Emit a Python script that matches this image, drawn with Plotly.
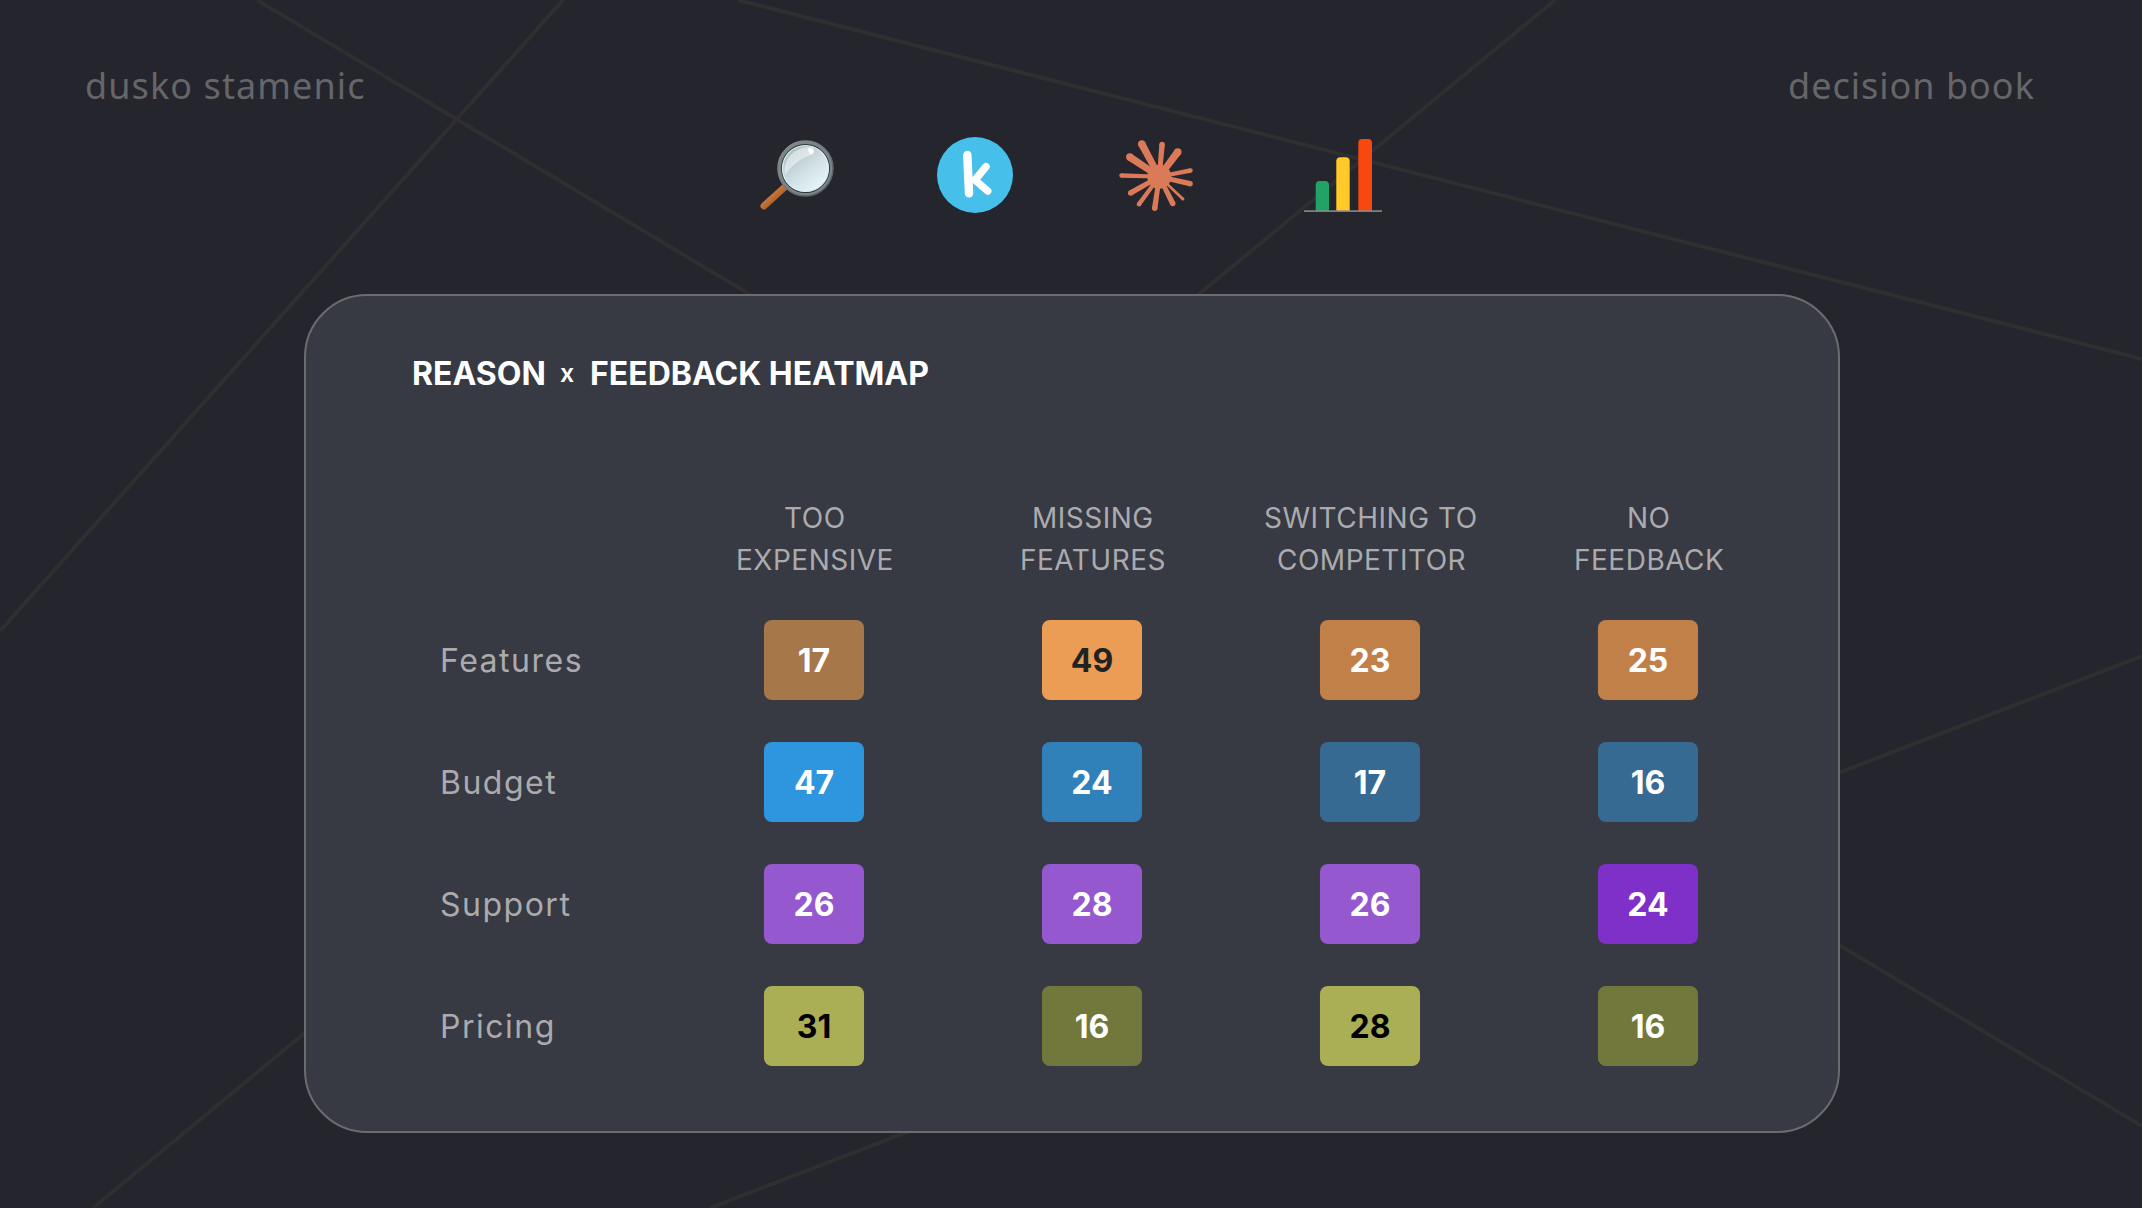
import base64
import plotly.graph_objects as go

# Heatmap content
REASONS = ["Features", "Budget", "Support", "Pricing"]
FEEDBACK_LINES = [["TOO", "EXPENSIVE"], ["MISSING", "FEATURES"],
                  ["SWITCHING TO", "COMPETITOR"], ["NO", "FEEDBACK"]]
FEEDBACK = [" ".join(parts) for parts in FEEDBACK_LINES]

FEATURES_VALUES = [17, 49, 23, 25]
BUDGET_VALUES = [47, 24, 17, 16]
SUPPORT_VALUES = [26, 28, 26, 24]
PRICING_VALUES = [31, 16, 28, 16]
ROW_VALUES = [FEATURES_VALUES, BUDGET_VALUES, SUPPORT_VALUES, PRICING_VALUES]

FEATURES_COLORS = ["#A67749", "#EB9C55", "#C28049", "#C28049"]
BUDGET_COLORS = ["#2E96DE", "#3080BA", "#366A92", "#366A92"]
SUPPORT_COLORS = ["#9558CF", "#9558CF", "#9558CF", "#7F30C9"]
PRICING_COLORS = ["#AAAE55", "#72783B", "#AAAE55", "#72783B"]
ROW_COLORS = [FEATURES_COLORS, BUDGET_COLORS, SUPPORT_COLORS, PRICING_COLORS]

FEATURES_TEXT = ["#FFFFFF", "#222222", "#FFFFFF", "#FFFFFF"]
BUDGET_TEXT = ["#FFFFFF"] * 4
SUPPORT_TEXT = ["#FFFFFF"] * 4
PRICING_TEXT = ["#000000", "#FFFFFF", "#000000", "#FFFFFF"]
ROW_TEXT = [FEATURES_TEXT, BUDGET_TEXT, SUPPORT_TEXT, PRICING_TEXT]

W, H = 2142, 1208
SANS = "Inter"
HUMANIST = "Noto Sans"
BG = "#24252D"
CARD = "#373943"
CARD_EDGE = "#6C6C6E"
WEB = "#2F2F2F"
MUTED = "#ABABAD"


def px(x):
    return x / W


def py(y):
    return 1 - y / H


def spaced(text, amount):
    return f"<span style='letter-spacing:{amount}px'>{text}</span>"


def line(x0, y0, x1, y1):
    return dict(type="line", xref="paper", yref="paper", layer="below",
                x0=px(x0), y0=py(y0), x1=px(x1), y1=py(y1),
                line=dict(color=WEB, width=4))


def rounded_rect(x0, y0, x1, y1, r):
    k = r * 0.45
    pts = [
        f"M {px(x0 + r)} {py(y0)}", f"L {px(x1 - r)} {py(y0)}",
        f"C {px(x1 - k)} {py(y0)} {px(x1)} {py(y0 + k)} {px(x1)} {py(y0 + r)}",
        f"L {px(x1)} {py(y1 - r)}",
        f"C {px(x1)} {py(y1 - k)} {px(x1 - k)} {py(y1)} {px(x1 - r)} {py(y1)}",
        f"L {px(x0 + r)} {py(y1)}",
        f"C {px(x0 + k)} {py(y1)} {px(x0)} {py(y1 - k)} {px(x0)} {py(y1 - r)}",
        f"L {px(x0)} {py(y0 + r)}",
        f"C {px(x0)} {py(y0 + k)} {px(x0 + k)} {py(y0)} {px(x0 + r)} {py(y0)}",
        "Z",
    ]
    return " ".join(pts)


def svg_uri(body, w, h):
    svg = f'<svg xmlns="http://www.w3.org/2000/svg" viewBox="0 0 {w} {h}" width="{w*4}" height="{h*4}">{body}</svg>'
    return "data:image/svg+xml;base64," + base64.b64encode(svg.encode()).decode()


def icon(body, x0, y0, x1, y1):
    return dict(source=svg_uri(body, x1 - x0, y1 - y0), xref="paper", yref="paper",
                x=px(x0), y=py(y0), sizex=(x1 - x0) / W, sizey=(y1 - y0) / H,
                xanchor="left", yanchor="top", sizing="stretch", layer="above")


def top_rounded_bar(x, top, width, bottom, fill, r=4):
    return (f'<path d="M{x} {bottom} L{x} {top + r} Q{x} {top} {x + r} {top} '
            f'L{x + width - r} {top} Q{x + width} {top} {x + width} {top + r} '
            f'L{x + width} {bottom} Z" fill="{fill}"/>')


MAGNIFIER = """
<defs>
<linearGradient id="g" x1="0.15" y1="0.05" x2="0.85" y2="0.95">
<stop offset="0" stop-color="#A9BCC0"/><stop offset="0.5" stop-color="#CFDEE2"/><stop offset="1" stop-color="#EAF8FC"/>
</linearGradient>
<linearGradient id="h" x1="0" y1="0" x2="1" y2="1">
<stop offset="0" stop-color="#E59A5E"/><stop offset="0.55" stop-color="#B8682C"/><stop offset="1" stop-color="#7E3F12"/>
</linearGradient>
<linearGradient id="r" x1="0" y1="0" x2="1" y2="1">
<stop offset="0" stop-color="#8B9497"/><stop offset="1" stop-color="#4E5558"/>
</linearGradient>
</defs>
<line x1="27.5" y1="47.5" x2="6" y2="67" stroke="url(#h)" stroke-width="7" stroke-linecap="round"/>
<circle cx="47.5" cy="29.5" r="27.5" fill="#7C8588" stroke="url(#r)" stroke-width="1.5"/>
<circle cx="47.5" cy="29.5" r="24.5" fill="#2E3336"/>
<circle cx="47.5" cy="29.5" r="23" fill="url(#g)" stroke="#DDF0F6" stroke-width="1.2"/>
<path d="M27 36 C24 20 37 7 54 8 C58 10 56 14 52 16 C42 20 33 27 27 36 Z" fill="#F4F8F8" opacity="0.55"/>
<path d="M50 9 C56 9 58 13 53 16 C51 14 50 12 50 9 Z" fill="#FFFFFF" opacity="0.9"/>
"""
K_BADGE = """
<circle cx="38" cy="38" r="38" fill="#47BFEB"/>
<path d="M30.3 18 L32 56.3" fill="none" stroke="#FFFFFF" stroke-width="8.5" stroke-linecap="round"/>
<path d="M49 29.7 L38 43 L50.7 54" fill="none" stroke="#FFFFFF" stroke-width="7.5" stroke-linecap="round" stroke-linejoin="round"/>
"""
SPARK_TIPS = [(23, 2.7), (45.3, 3.7), (63, 11), (75.7, 32), (75.7, 46.3), (67, 62),
              (57, 68), (37.3, 73), (20.7, 68), (11.3, 56.3), (2.3, 37.3), (9.7, 17)]
SPARK_WIDTHS = [7.5, 5.5, 7.5, 4.5, 5.5, 3, 5.5, 5.5, 4.5, 5.5, 4.5, 7.5]
HUB = (42.3, 38.7)
spark = ""
for (tx, ty), sw in zip(SPARK_TIPS, SPARK_WIDTHS):
    dx, dy = tx - HUB[0], ty - HUB[1]
    n = (dx * dx + dy * dy) ** 0.5
    ex, ey = tx - dx / n * sw / 2, ty - dy / n * sw / 2
    ox, oy = -dy / n, dx / n
    a, b = sw / 2, sw * 0.42
    spark += (f'<path d="M{HUB[0] - ox * b} {HUB[1] - oy * b} L{ex - ox * a} {ey - oy * a} '
              f'L{ex + ox * a} {ey + oy * a} L{HUB[0] + ox * b} {HUB[1] + oy * b} Z" fill="#DB7A58"/>'
              f'<circle cx="{ex}" cy="{ey}" r="{a}" fill="#DB7A58"/>')
spark += f'<circle cx="{HUB[0]}" cy="{HUB[1]}" r="12" fill="#DB7A58"/>'
BARS_ICON = (
    top_rounded_bar(11.7, 43, 13.3, 73, "#21A366")
    + top_rounded_bar(32.3, 19.3, 13.4, 73, "#FFCA28")
    + top_rounded_bar(54.3, 1, 13.7, 73, "#F9480F")
    + '<rect x="0" y="72.3" width="78" height="1.6" fill="#8A8A8C"/>'
)

shapes = [
    line(257, 0, 2142, 1126),
    line(563, 0, 0, 631),
    line(738, 0, 2142, 359),
    line(1555, 0, 93, 1208),
    line(2142, 656, 710, 1208),
    dict(type="path", xref="paper", yref="paper", layer="below",
         path=rounded_rect(305, 295, 1839, 1132, 62),
         fillcolor=CARD, line=dict(color=CARD_EDGE, width=2)),
]

images = [
    icon(MAGNIFIER, 758, 139, 836, 213),
    icon(K_BADGE, 937, 137, 1013, 213),
    icon(spark, 1117, 138, 1198, 215),
    icon(BARS_ICON, 1304, 138, 1383, 213),
]

fig = go.Figure()
for r, name in enumerate(REASONS):
    fig.add_trace(go.Bar(
        x=FEEDBACK, y=[0.656] * 4, base=[r - 0.328] * 4, width=0.36, name=name,
        marker=dict(color=ROW_COLORS[r], line=dict(width=0)),
        text=ROW_VALUES[r], textposition="inside", insidetextanchor="middle",
        textangle=0, constraintext="none", cliponaxis=False,
        insidetextfont=dict(family=SANS, size=32, weight=700, color=ROW_TEXT[r]),
        hoverinfo="skip", showlegend=False,
    ))


def page_text(text, x, y, anchor, family, size, color, weight=400):
    return dict(text=text, xref="paper", yref="paper", x=px(x), y=py(y),
                xanchor=anchor, yanchor="middle", showarrow=False,
                font=dict(family=family, size=size, color=color, weight=weight))


annotations = [
    page_text(spaced("dusko stamenic", 1.1), 82.5, 85, "left", HUMANIST, 36, "#666668"),
    page_text(spaced("decision book", 1.0), 2036.5, 85, "right", HUMANIST, 36, "#666668"),
    page_text("REASON", 410, 373, "left", SANS, 32, "#FFFFFF", 700),
    page_text("x", 566.5, 373, "center", SANS, 25, "#FFFFFF", 600),
    page_text("FEEDBACK HEATMAP", 588, 373, "left", SANS, 32, "#FFFFFF", 700),
]
for r, name in enumerate(REASONS):
    annotations.append(dict(text=spaced(name, 1.5), xref="paper", yref="y", x=px(437.5), y=r,
                            xanchor="left", yanchor="middle", showarrow=False,
                            font=dict(family=SANS, size=32, color=MUTED)))
for label, parts in zip(FEEDBACK, FEEDBACK_LINES):
    for part, yy in zip(parts, (518, 560)):
        annotations.append(dict(text=spaced(part, 0.5), xref="x", yref="paper", x=label, y=py(yy),
                                xanchor="center", yanchor="middle", showarrow=False, xshift=1,
                                font=dict(family=SANS, size=28, color=MUTED)))

fig.update_layout(
    width=W, height=H, autosize=False,
    margin=dict(l=0, r=0, t=0, b=0, pad=0),
    paper_bgcolor=BG, plot_bgcolor="rgba(0,0,0,0)",
    barmode="overlay", barcornerradius=8,
    shapes=shapes, images=images, annotations=annotations,
    xaxis=dict(domain=[px(675), px(1787)], range=[-0.5, 3.5], type="category",
               categoryorder="array", categoryarray=FEEDBACK, visible=False, fixedrange=True),
    yaxis=dict(domain=[py(1087), py(599)], range=[3.5, -0.5], visible=False, fixedrange=True),
)

fig.write_html("out.html", config=dict(displayModeBar=False))
